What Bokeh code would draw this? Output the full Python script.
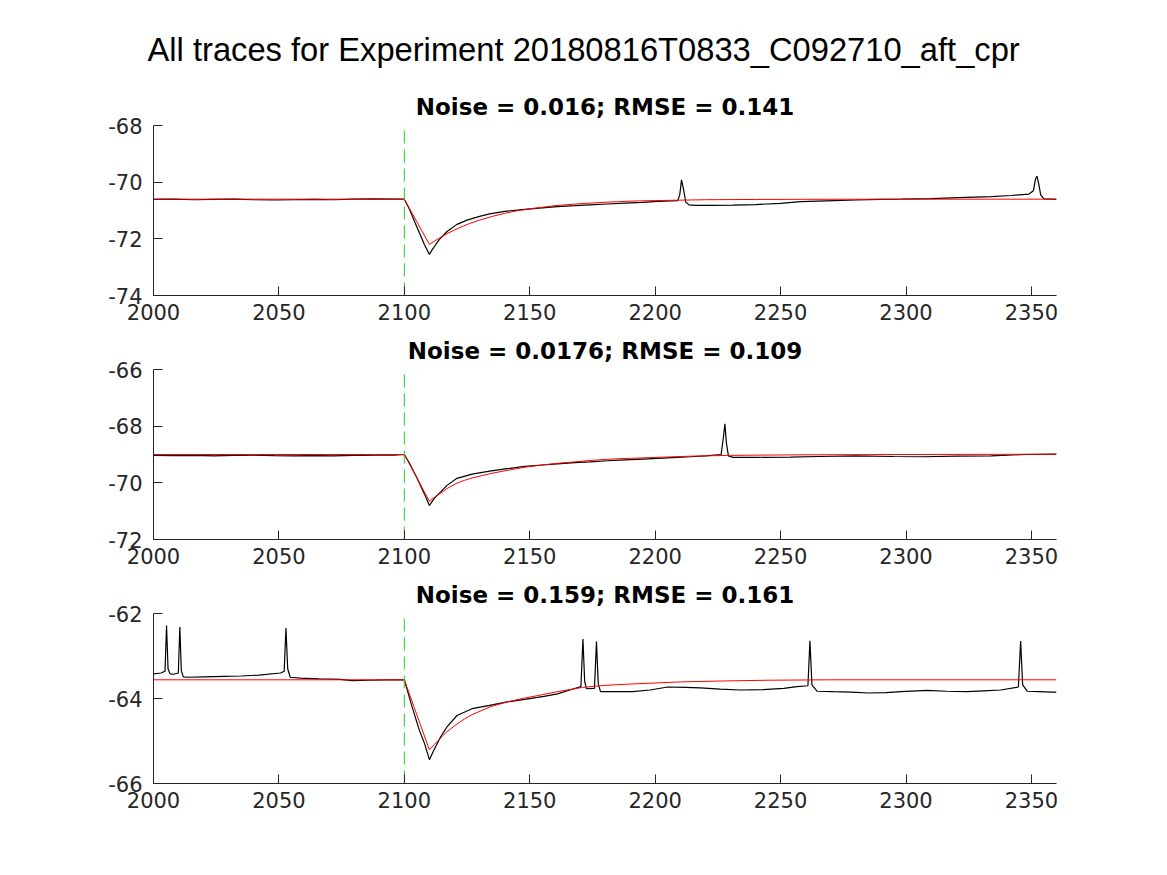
from bokeh.plotting import figure
from bokeh.layouts import column
from bokeh.models import Range1d, FixedTicker, Title
from bokeh.embed import file_html
from bokeh.resources import INLINE

suptitle = "All traces for Experiment 20180816T0833_C092710_aft_cpr"
subtitles = ["Noise = 0.016; RMSE = 0.141",
             "Noise = 0.0176; RMSE = 0.109",
             "Noise = 0.159; RMSE = 0.161"]

x_ticks = [2000, 2050, 2100, 2150, 2200, 2250, 2300, 2350]
x_limits = (2000, 2360)
stim_x = 2100

y_limits = [(-74, -68), (-72, -66), (-66, -62)]
y_ticks = [[-74, -72, -70, -68], [-72, -70, -68, -66], [-66, -64, -62]]

# ---- trace 1 (black: recorded, red: fit)
t1 = [2000, 2008, 2016, 2024, 2032, 2040, 2048, 2056, 2064, 2072,
      2080, 2088, 2096, 2100, 2102, 2105, 2108, 2110, 2111, 2112,
      2114, 2117, 2121, 2125, 2130, 2134, 2140, 2148, 2155, 2161,
      2168, 2174, 2181, 2188, 2195, 2201, 2206, 2209, 2209.8, 2210.5,
      2211.3, 2212.2, 2213.5, 2216, 2222, 2231, 2240, 2250, 2258, 2268,
      2280, 2290, 2298, 2310, 2324, 2334, 2342, 2349, 2350.8, 2351.6,
      2352.2, 2352.9, 2353.7, 2355, 2360]
v1 = [-70.61, -70.60, -70.62, -70.61, -70.60, -70.62, -70.63, -70.62, -70.61, -70.62,
      -70.60, -70.59, -70.60, -70.60, -70.95, -71.58, -72.20, -72.55, -72.40, -72.27,
      -72.02, -71.74, -71.49, -71.34, -71.21, -71.12, -71.03, -70.96, -70.91, -70.86,
      -70.83, -70.80, -70.77, -70.74, -70.71, -70.68, -70.66, -70.65, -70.45, -69.92,
      -70.25, -70.70, -70.80, -70.82, -70.82, -70.81, -70.79, -70.75, -70.69, -70.66,
      -70.63, -70.61, -70.60, -70.58, -70.54, -70.51, -70.47, -70.42, -70.30, -69.90,
      -69.79, -70.05, -70.45, -70.59, -70.61]
ft1 = [2000, 2100, 2110, 2112, 2114, 2117, 2120, 2123, 2126, 2130,
       2135, 2140, 2145, 2150, 2160, 2170, 2180, 2190, 2200, 2220,
       2240, 2260, 2300, 2360]
fv1 = [-70.60, -70.60, -72.20, -72.08, -71.97, -71.82, -71.69, -71.57, -71.46, -71.34,
       -71.21, -71.10, -71.01, -70.94, -70.83, -70.76, -70.71, -70.67, -70.65, -70.62,
       -70.61, -70.605, -70.60, -70.60]

# ---- trace 2
t2 = [2000, 2008, 2016, 2024, 2032, 2040, 2048, 2056, 2064, 2072,
      2080, 2088, 2096, 2100, 2102, 2105, 2108, 2110, 2112, 2114.4,
      2117, 2121, 2127, 2134, 2141, 2148, 2155, 2161, 2168, 2174,
      2181, 2188, 2195, 2201, 2207, 2214, 2220, 2226.3, 2227.2, 2227.8,
      2228.4, 2229.2, 2231, 2240, 2254, 2265, 2280, 2295, 2307, 2320,
      2334, 2347, 2360]
v2 = [-69.03, -69.04, -69.03, -69.05, -69.03, -69.02, -69.04, -69.05, -69.04, -69.05,
      -69.03, -69.02, -69.02, -69.00, -69.30, -69.82, -70.39, -70.80, -70.54, -70.33,
      -70.09, -69.84, -69.69, -69.59, -69.50, -69.42, -69.37, -69.33, -69.29, -69.26,
      -69.22, -69.19, -69.16, -69.14, -69.11, -69.08, -69.05, -69.00, -68.40, -67.92,
      -68.60, -69.05, -69.10, -69.10, -69.09, -69.07, -69.05, -69.07, -69.08, -69.06,
      -69.05, -69.00, -68.99]
ft2 = [2000, 2100, 2110, 2112, 2114.4, 2117, 2121, 2124, 2127, 2134,
       2141, 2148, 2155, 2161, 2168, 2174, 2181, 2188, 2195, 2201,
       2214, 2230, 2260, 2300, 2360]
fv2 = [-69.00, -69.00, -70.65, -70.51, -70.37, -70.20, -70.01, -69.91, -69.83, -69.68,
       -69.56, -69.45, -69.37, -69.31, -69.26, -69.21, -69.17, -69.14, -69.12, -69.10,
       -69.06, -69.03, -69.01, -69.00, -68.99]

# ---- trace 3
t3 = [2000, 2003, 2004.6, 2005.2, 2005.8, 2006.6, 2008, 2009.9, 2010.5, 2011.1,
      2011.9, 2014, 2020, 2028, 2035, 2042, 2050.6, 2052.1, 2052.8, 2053.5,
      2054.5, 2058.6, 2066, 2074.6, 2079, 2086, 2093, 2100, 2103, 2106,
      2108, 2110, 2111.8, 2114.4, 2117.1, 2121, 2127, 2134, 2141, 2148,
      2155.7, 2161, 2166, 2170.4, 2171.2, 2171.9, 2172.6, 2175.8, 2176.6, 2177.3,
      2178.2, 2185, 2191, 2198, 2205, 2212, 2218, 2226, 2234, 2243,
      2251.3, 2256.5, 2260.9, 2261.7, 2262.5, 2264.6, 2271, 2278, 2285, 2292,
      2298, 2308.5, 2316, 2324.4, 2331, 2337.7, 2344.8, 2345.7, 2346.5, 2348.4,
      2353, 2358, 2360]
v3 = [-63.42, -63.40, -63.36, -62.28, -63.30, -63.42, -63.43, -63.40, -62.32, -63.35,
      -63.49, -63.50, -63.49, -63.48, -63.47, -63.45, -63.40, -63.36, -62.34, -63.30,
      -63.50, -63.52, -63.54, -63.55, -63.58, -63.57, -63.56, -63.56, -64.18, -64.75,
      -65.05, -65.44, -65.21, -64.91, -64.66, -64.40, -64.24, -64.16, -64.08, -64.02,
      -63.95, -63.89, -63.80, -63.72, -62.60, -63.60, -63.77, -63.76, -62.66, -63.65,
      -63.84, -63.84, -63.84, -63.80, -63.73, -63.74, -63.75, -63.78, -63.80, -63.79,
      -63.76, -63.72, -63.70, -62.64, -63.68, -63.83, -63.84, -63.85, -63.87, -63.86,
      -63.84, -63.81, -63.83, -63.84, -63.82, -63.80, -63.73, -62.65, -63.68, -63.83,
      -63.84, -63.85, -63.85]
ft3 = [2000, 2100, 2110, 2112, 2114.4, 2117, 2121, 2124, 2127, 2134,
       2141, 2148, 2155, 2161, 2171, 2180, 2190, 2198, 2210, 2225,
       2245, 2270, 2360]
fv3 = [-63.56, -63.56, -65.21, -65.08, -64.93, -64.78, -64.60, -64.48, -64.38, -64.20,
       -64.08, -63.99, -63.91, -63.84, -63.74, -63.69, -63.66, -63.64, -63.61, -63.59,
       -63.57, -63.56, -63.56]

traces = [(t1, v1, ft1, fv1), (t2, v2, ft2, fv2), (t3, v3, ft3, fv3)]
heights = [330, 244, 301]
borders = [(125, 35), (39, 35), (39, 92)]

AX = "#262626"


def style_subtitle(t):
    t.align = "center"
    t.text_font = "DejaVu Sans"
    t.text_font_size = "23px"
    t.text_font_style = "bold"
    t.text_color = "#000000"
    t.standoff = 11


panels = []
for i in range(3):
    t, v, ft, fv = traces[i]
    ylo, yhi = y_limits[i]
    p = figure(width=1167, height=heights[i],
               x_range=Range1d(*x_limits), y_range=Range1d(ylo, yhi),
               output_backend="svg", toolbar_location=None,
               min_border_left=153, min_border_right=111,
               min_border_top=borders[i][0], min_border_bottom=borders[i][1])
    if i == 0:
        p.title.text = suptitle
        p.title.align = "left"
        p.title.offset = -6
        p.title.text_font = "Liberation Sans"
        p.title.text_font_size = "32.7px"
        p.title.text_font_style = "normal"
        p.title.text_color = "#000000"
        p.title.standoff = 38
        sub = Title(text=subtitles[i])
        style_subtitle(sub)
        p.add_layout(sub, "above")
    else:
        p.title.text = subtitles[i]
        style_subtitle(p.title)
    p.outline_line_color = None
    p.background_fill_color = "white"
    p.border_fill_color = "white"
    p.xgrid.visible = False
    p.ygrid.visible = False

    for ax, ticks in ((p.xaxis[0], x_ticks), (p.yaxis[0], y_ticks[i])):
        ax.ticker = FixedTicker(ticks=ticks)
        ax.major_label_overrides = {tk: str(tk) for tk in ticks}
        ax.major_tick_in = 9
        ax.major_tick_out = 0
        ax.minor_tick_in = 0
        ax.minor_tick_out = 0
        ax.axis_line_color = AX
        ax.major_tick_line_color = AX
        ax.major_label_text_color = AX
        ax.major_label_text_font = "DejaVu Sans"
        ax.major_label_text_font_size = "21px"
    p.xaxis.major_label_standoff = 8
    p.yaxis.major_label_standoff = 11

    p.line(t, v, line_color="black", line_width=1.2)
    p.line(ft, fv, line_color="#ff0000", line_width=1)
    p.line([stim_x, stim_x], [ylo, yhi], line_color="#22cc22", line_width=1,
           line_dash="13 6")
    panels.append(p)

layout = column(*panels, spacing=0)
open("out.html", "w").write(file_html(layout, INLINE))
